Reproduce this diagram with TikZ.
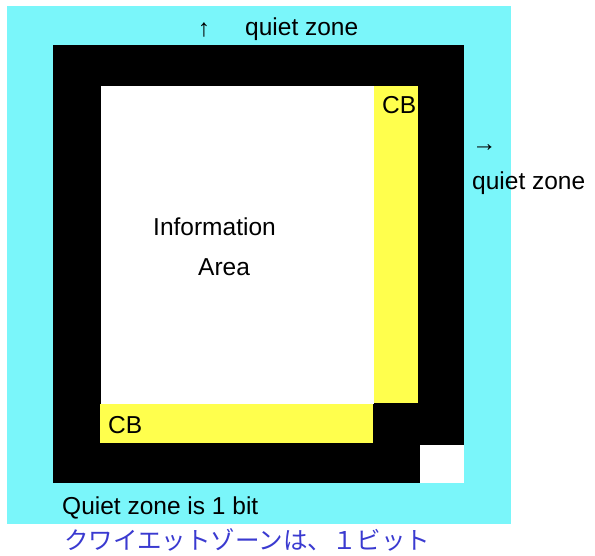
\documentclass[tikz,border=0pt]{standalone}
\usepackage{fontspec}
\setmainfont{Liberation Sans}
\newfontfamily\jpfont{Noto Sans CJK JP}
\usetikzlibrary{positioning}
\definecolor{qzcyan}{RGB}{122,246,250}
\definecolor{cbyellow}{RGB}{255,255,77}
\definecolor{jpblue}{RGB}{58,58,208}
\tikzset{lbl/.style={inner sep=0pt,font=\fontsize{24.5}{28}\selectfont}}

\begin{document}
\begin{tikzpicture}[x=1pt,y=-1pt]
      \useasboundingbox (0,0) rectangle (595,556);

      % quiet zone and frame
      \fill[qzcyan] (7,6) coordinate (q0) rectangle (511,524) coordinate (q1);
      \fill[black] (53,45) coordinate (f0) rectangle (464,483) coordinate (f1);
      \fill[white] (420,445) rectangle (f1);
      \fill[white] (101,86) coordinate (i0) rectangle (374,404) coordinate (i1);

      % correction bits
      \fill[cbyellow] (i0 -| i1) rectangle (418,403) coordinate (cbr);
      \fill[cbyellow] (100,404) rectangle (373,443) coordinate (cbb);

      \draw (204,30) node[lbl] (uparr) {↑};
      \draw (245,29) node[lbl,anchor=west] (qztop) {quiet zone};
      \draw (472,148) node[lbl,anchor=west] (rarr) {→};
      \draw (472,183) node[lbl,anchor=west] (qzright) {quiet zone};

      \draw (382,105) node[lbl,anchor=west] (cbtop) {CB};
      \draw (108,425) node[lbl,anchor=west] (cbbot) {CB};

      \draw (153,227) node[lbl,anchor=west] (info) {Information};
      \draw (198,267) node[lbl,anchor=west] (area) {Area};

      \draw (62,508) node[lbl,anchor=west] (qznote) {Quiet zone is 1 bit};
      \draw (64,540) node[lbl,anchor=west,text=jpblue] (qzjp) {\jpfont クワイエットゾーンは、１ビット};
\end{tikzpicture}
\end{document}
